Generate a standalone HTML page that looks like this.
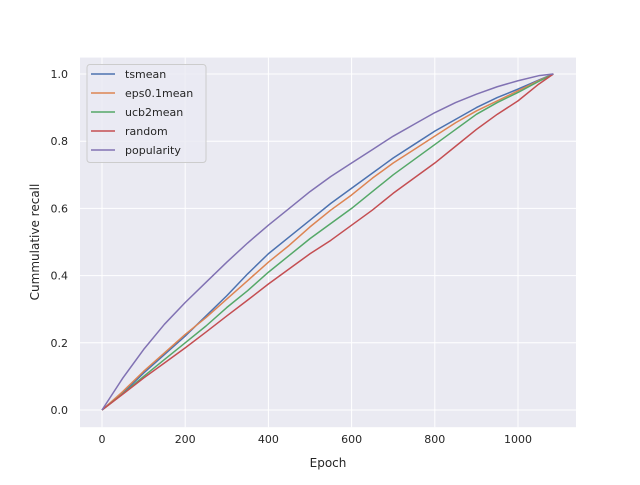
<!DOCTYPE html>
<html><head><meta charset="utf-8"><style>
body{margin:0;background:#fff;}
svg{font-family:"DejaVu Sans","Liberation Sans",sans-serif;}
</style></head><body>
<svg id="c" width="640" height="480" xmlns="http://www.w3.org/2000/svg"></svg>
<script>
const epochs = [0,50,100,150,200,250,300,350,400,450,500,550,600,650,700,750,800,850,900,950,1000,1050,1085];
const tsmean = [0,0.05,0.11,0.165,0.22,0.28,0.34,0.405,0.465,0.515,0.565,0.615,0.66,0.705,0.75,0.79,0.83,0.865,0.9,0.93,0.955,0.982,1.0];
const eps = [0,0.055,0.115,0.17,0.225,0.275,0.33,0.385,0.44,0.49,0.545,0.595,0.64,0.69,0.735,0.775,0.815,0.855,0.89,0.92,0.95,0.98,1.0];
const ucb2 = [0,0.048,0.1,0.15,0.2,0.25,0.305,0.355,0.41,0.46,0.51,0.555,0.6,0.65,0.7,0.745,0.79,0.835,0.88,0.915,0.945,0.978,1.0];
const randomS = [0,0.047,0.095,0.14,0.185,0.232,0.28,0.327,0.375,0.42,0.465,0.505,0.55,0.595,0.645,0.69,0.735,0.785,0.835,0.88,0.92,0.97,1.0];
const popularity = [0,0.095,0.18,0.255,0.32,0.38,0.44,0.497,0.55,0.6,0.65,0.695,0.735,0.775,0.815,0.85,0.885,0.915,0.94,0.962,0.98,0.995,1.0];
const xTicks = [0,200,400,600,800,1000];
const yTicks = [0,0.2,0.4,0.6,0.8,1.0];
const seriesNames = ["tsmean","eps0.1mean","ucb2mean","random","popularity"];
const seriesData = [tsmean,eps,ucb2,randomS,popularity];
const colors = ["#4c72b0","#dd8452","#55a868","#c44e52","#8172b3"];

const L=80,R=576,T=57.6,B=427.2;
const X=v=>102+v*0.416;
const Y=v=>410-v*336;
const svg=document.getElementById('c');
const NS="http://www.w3.org/2000/svg";
function mk(tag,attrs,parent){const e=document.createElementNS(NS,tag);for(const k in attrs)e.setAttribute(k,attrs[k]);(parent||svg).appendChild(e);return e;}
let bg=mk('rect',{x:L,y:T,width:R-L,height:B-T,fill:'#eaeaf2'});


xTicks.forEach(t=>{
  let g=mk('line',{x1:X(t),x2:X(t),y1:T,y2:B,stroke:'#fff','stroke-width':1});
  
  
  let tx=mk('text',{x:X(t),y:B+16,'text-anchor':'middle','font-size':11,fill:'#262626'});
  tx.textContent=t;
  
  
});
yTicks.forEach(t=>{
  let g=mk('line',{x1:L,x2:R,y1:Y(t),y2:Y(t),stroke:'#fff','stroke-width':1});
  
  
  let tx=mk('text',{x:L-12,y:Y(t)+4,'text-anchor':'end','font-size':11,fill:'#262626'});
  tx.textContent=t.toFixed(1);
  
  
});
seriesData.forEach((d,i)=>{
  const pts=epochs.map((e,j)=>X(e)+','+Y(d[j])).join(' ');
  let p=mk('polyline',{points:pts,fill:'none',stroke:colors[i],'stroke-width':1.5,'stroke-linejoin':'round'});
  
  
});
let xl=mk('text',{x:328,y:467,'text-anchor':'middle','font-size':12,fill:'#262626'});
xl.textContent='Epoch';


let yl=mk('text',{x:0,y:0,'text-anchor':'middle','font-size':12,fill:'#262626',transform:'translate(39,242) rotate(-90)'});
yl.textContent='Cummulative recall';


let lg=mk('g',{});


mk('rect',{x:87,y:64.5,width:119,height:98,rx:3,fill:'#eaeaf2','fill-opacity':0.8,stroke:'#cccccc'},lg);
seriesNames.forEach((n,i)=>{
  const y=74+i*19;
  let e=mk('g',{},lg);
  
  
  mk('line',{x1:91,x2:115,y1:y,y2:y,stroke:colors[i],'stroke-width':1.5},e);
  let t=mk('text',{x:125,y:y+4,'font-size':11,fill:'#262626'},e);
  t.textContent=n;
});
</script>
</body></html>
